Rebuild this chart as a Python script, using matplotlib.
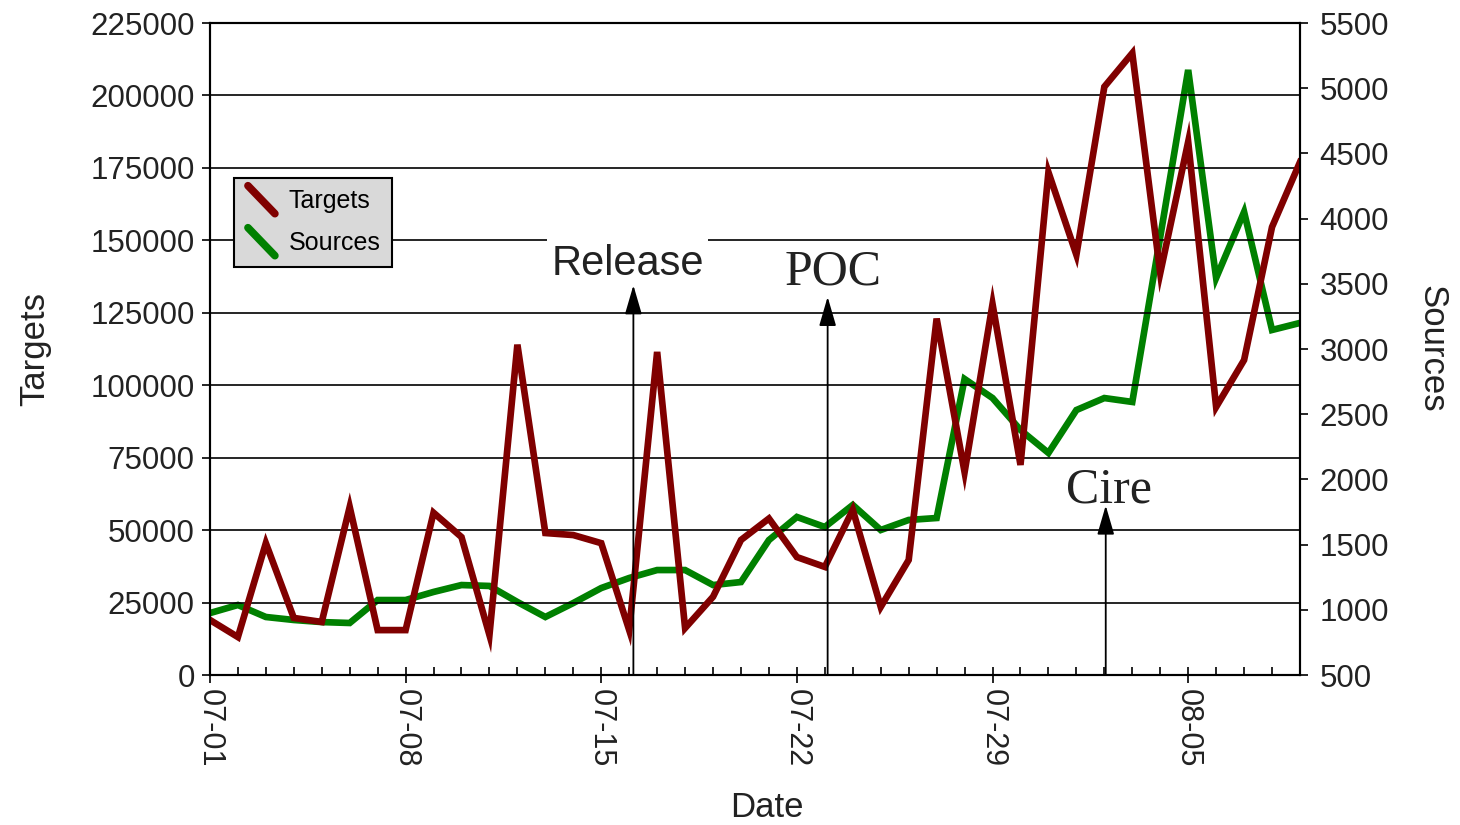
import numpy as np
import matplotlib
matplotlib.use("Agg")
import matplotlib.pyplot as plt
from matplotlib.lines import Line2D
from matplotlib.legend_handler import HandlerBase
from matplotlib.ticker import MultipleLocator, FixedLocator

# daily counts, 07-01 .. 08-09
days = np.arange(40)
day_labels = ["07-01", "07-08", "07-15", "07-22", "07-29", "08-05"]

targets = [19000, 13100, 45500, 19700, 18300, 58000, 15500, 15500, 56000, 47600,
           13800, 114000, 49000, 48300, 45500, 15500, 111500, 16200, 27000, 46600,
           54000, 40700, 37300, 57000, 23500, 39700, 123000, 70000, 128000, 72500,
           173500, 145000, 203000, 214600, 138700, 184000, 92500, 108700, 154600, 177000]
sources = [975, 1037, 945, 922, 906, 899, 1075, 1075, 1137, 1190,
           1183, 1060, 945, 1052, 1167, 1244, 1305, 1305, 1190, 1213,
           1535, 1712, 1635, 1804, 1612, 1689, 1704, 2770, 2624, 2379,
           2203, 2532, 2624, 2594, 3859, 5140, 3545, 4051, 3146, 3200]

# events: (label, day, arrow tip on Targets scale)
events = [("Release", 15.15, 134500),
          ("POC", 22.1, 130500),
          ("Cire", 32.05, 58500)]

red = "#800000"
green = "#008000"


class DiagonalHandler(HandlerBase):
    def create_artists(self, legend, orig, xdescent, ydescent, width, height, fontsize, trans):
        ln = Line2D([-xdescent + 2, -xdescent + width - 2],
                    [-ydescent + height * 1.3, -ydescent - height * 0.3],
                    color=orig.get_color(), lw=orig.get_linewidth(),
                    solid_capstyle="round", transform=trans)
        return [ln]


plt.rcParams["font.family"] = ["Liberation Sans", "DejaVu Sans"]

fig = plt.figure(figsize=(14.6, 8.25), dpi=100)
ax = fig.add_axes([0.1438, 0.1818, 0.7466, 0.7903])
ax2 = ax.twinx()

ax2.plot(days, sources, color=green, lw=4.8, solid_joinstyle="miter")
ax.plot(days, targets, color=red, lw=4.8, solid_joinstyle="miter")
ax.set_zorder(ax2.get_zorder() + 1)
ax.patch.set_visible(False)

ax.set_xlim(0, 39)
ax.set_ylim(0, 225000)
ax2.set_ylim(500, 5500)
ax.yaxis.set_major_locator(MultipleLocator(25000))
ax2.yaxis.set_major_locator(MultipleLocator(500))
ax.xaxis.set_major_locator(FixedLocator(np.arange(0, 36, 7)))
ax.xaxis.set_minor_locator(MultipleLocator(1))
ax.set_xticklabels(day_labels, rotation=270)

ax.grid(axis="y", color="black", lw=1.2)
ax.set_axisbelow(True)

ax.tick_params(axis="x", which="major", direction="inout", length=12, width=1.2,
               labelsize=22, pad=4, labelcolor="#222222")
ax.tick_params(axis="x", which="minor", direction="in", length=6, width=1.2)
ax.tick_params(axis="y", direction="out", length=6, width=1.2, labelsize=22.5,
               pad=5, labelcolor="#222222")
ax2.tick_params(axis="y", direction="out", length=6, width=1.2, labelsize=22.5,
                pad=8, labelcolor="#222222")
for a in (ax, ax2):
    for s in a.spines.values():
        s.set_linewidth(1.5)

ax.set_xlabel("Date", fontsize=25, labelpad=17, color="#222222")
ax.xaxis.label.set_x(0.511)
ax.set_ylabel("Targets", fontsize=25, labelpad=28, color="#222222")
ax2.set_ylabel("Sources", fontsize=25, rotation=270, labelpad=43, color="#222222")

# event markers
for name, day, tip in events:
    ax.annotate("", xy=(day, tip), xytext=(day, 0),
                arrowprops=dict(arrowstyle="-|>,head_length=1.2,head_width=0.35",
                                mutation_scale=15, color="black", lw=1.3,
                                shrinkA=0, shrinkB=0),
                zorder=6)
ax.text(14.95, 142000, "Release", fontsize=30, ha="center", va="center", zorder=5,
        color="#222222", bbox=dict(facecolor="white", edgecolor="none", pad=3))
ax.text(22.3, 139000, "POC", fontsize=36, ha="center", va="center", zorder=5,
        family="Liberation Serif", color="#222222")
ax.text(32.15, 63800, "Cire", fontsize=36, ha="center", va="center", zorder=5,
        family="Liberation Serif", color="#222222")

h1 = Line2D([], [], color=red, lw=5.5)
h2 = Line2D([], [], color=green, lw=5.5)
leg = ax.legend([h1, h2], ["Targets", "Sources"], loc="upper left",
                bbox_to_anchor=(0.022, 0.762), fontsize=18, fancybox=False,
                framealpha=1, facecolor="#d9d9d9", edgecolor="black",
                handler_map={Line2D: DiagonalHandler()}, handlelength=1.3,
                handletextpad=0.45, borderpad=0.45, labelspacing=0.72,
                borderaxespad=0)
leg.get_frame().set_linewidth(1.5)
leg.set_zorder(7)

fig.savefig("out.png", dpi=100)
